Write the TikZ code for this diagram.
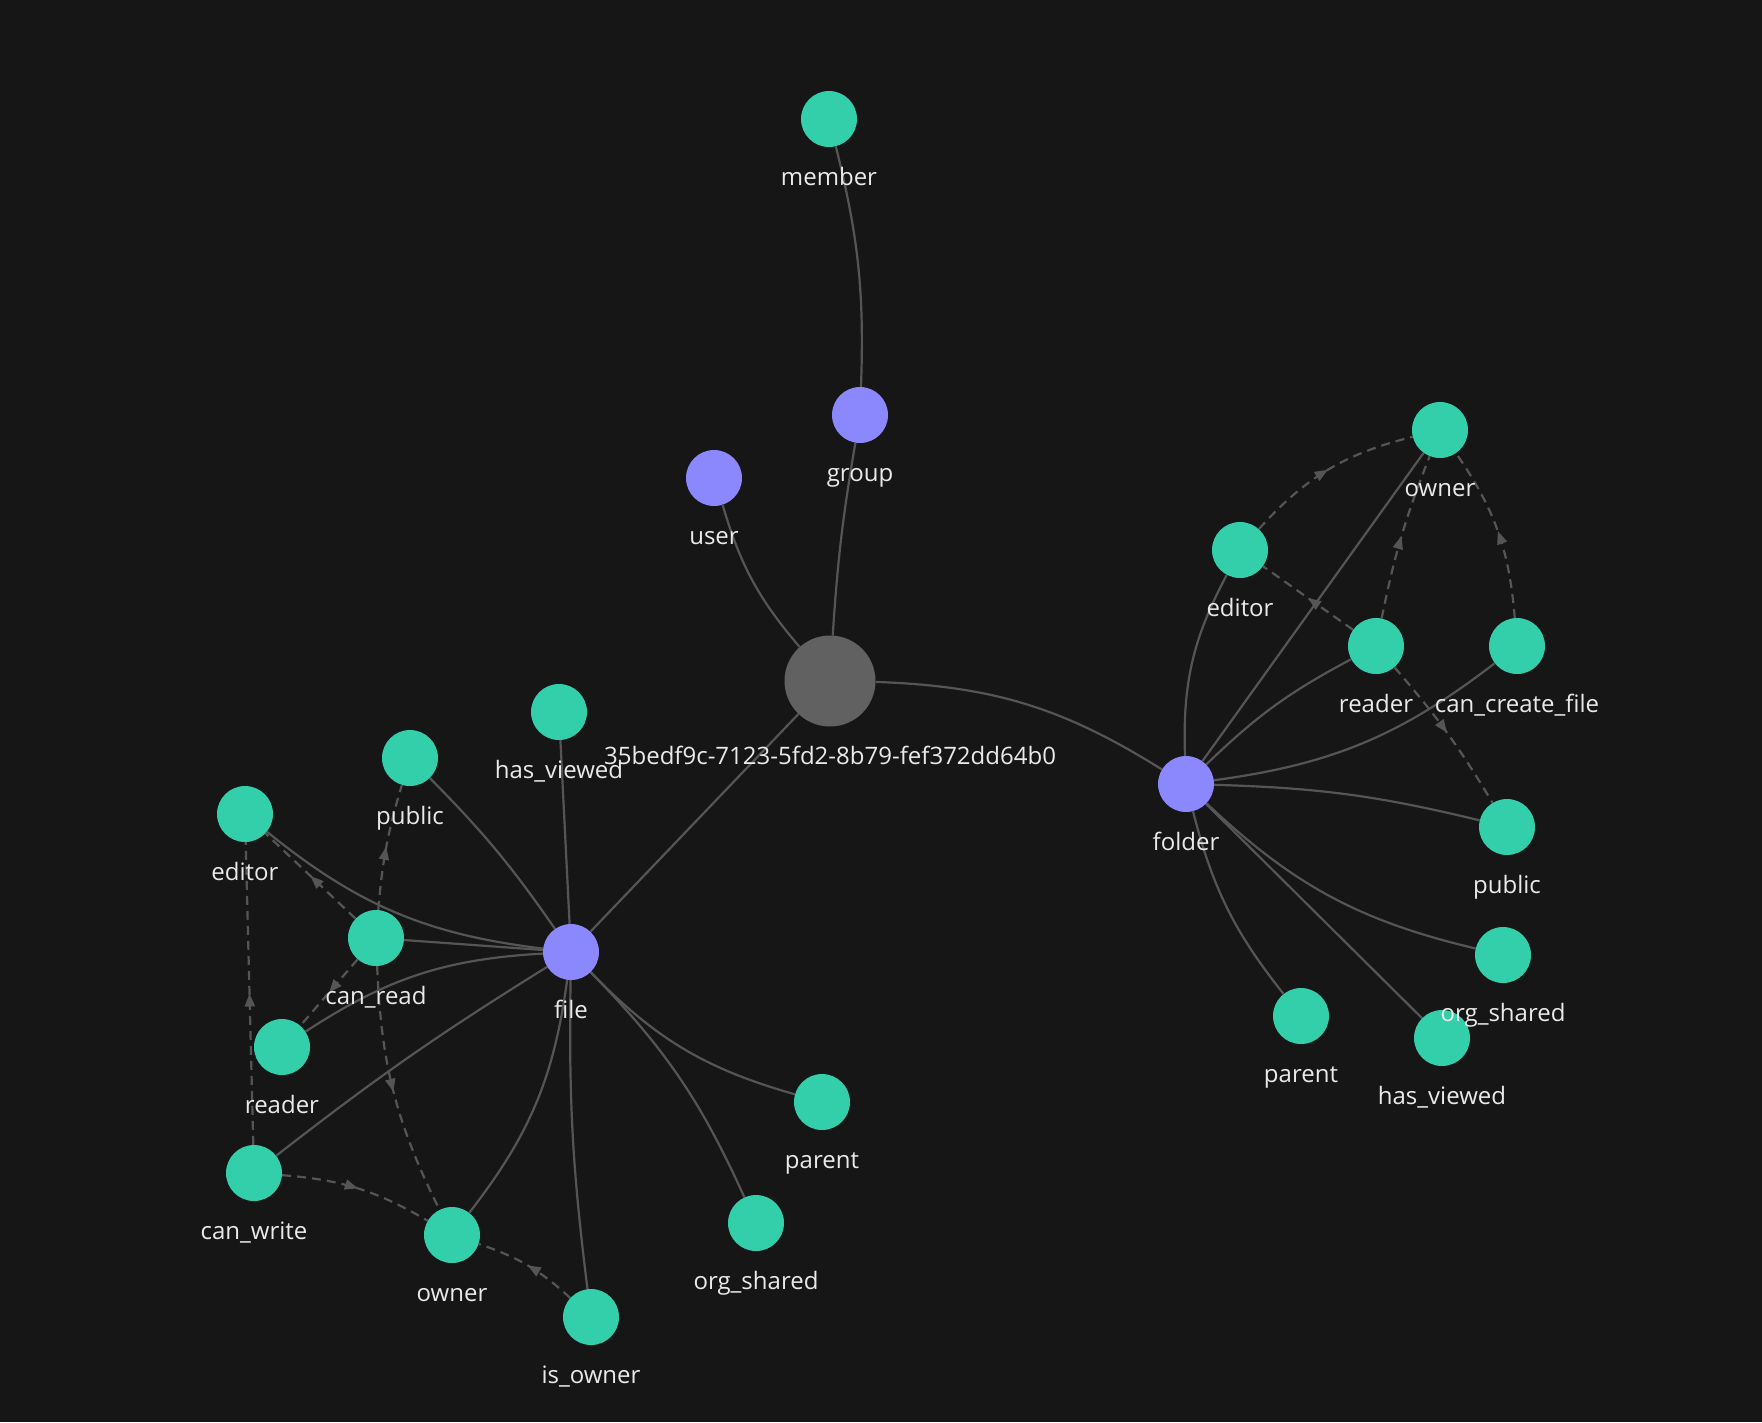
\documentclass[tikz,border=0pt]{standalone}
\usepackage{fontspec}
\setmainfont{Open Sans}
\usetikzlibrary{arrows.meta,decorations.markings}

\definecolor{bgcol}{HTML}{161616}
\definecolor{relgreen}{HTML}{33CFAA}
\definecolor{typpurple}{HTML}{8B87FC}
\definecolor{objgray}{HTML}{616161}
\definecolor{edgegray}{HTML}{555555}
\definecolor{labelwhite}{HTML}{EAEAEA}

\pgfdeclarelayer{bg}
\pgfdeclarelayer{edges}
\pgfsetlayers{bg,edges,main}

\begin{document}
\begin{tikzpicture}[x=1pt, y=-1pt,
    tag/.style={label={[anchor=base, label distance=38pt, text=labelwhite, font=\fontsize{24}{28}\selectfont]below:#1}},
    rel/.style={circle, fill=relgreen, minimum size=56pt, inner sep=0pt, tag=#1},
    typ/.style={circle, fill=typpurple, minimum size=56pt, inner sep=0pt, tag=#1},
    obj/.style={circle, fill=objgray, minimum size=91pt, inner sep=0pt, tag=#1},
    link/.style={draw=edgegray, line width=2.2pt},
    perm/.style={link, dash pattern=on 9pt off 6pt, postaction={decorate},
        decoration={markings, mark=at position 0.5 with {\arrow{Triangle[length=13pt,width=10pt]}}}}]

    \begin{pgfonlayer}{bg}
        \fill[bgcol] (0,0) rectangle (1762,1422);
    \end{pgfonlayer}

    % object, types
    \node[obj={35bedf9c-7123-5fd2-8b79-fef372dd64b0}] (root) at (830,681) {};
    \node[typ=user] (user) at (714,478) {};
    \node[typ=group] (group) at (860,415) {};
    \node[rel=member] (member) at (829,119) {};
    \node[typ=file] (file) at (571,952) {};
    \node[typ=folder] (folder) at (1186,784) {};

    % file relations
    \node[rel=has\_viewed] (fhasviewed) at (559,712) {};
    \node[rel=public] (fpublic) at (410,758) {};
    \node[rel=editor] (feditor) at (245,814) {};
    \node[rel=can\_read] (fcanread) at (376,938) {};
    \node[rel=reader] (freader) at (282,1047) {};
    \node[rel=can\_write] (fcanwrite) at (254,1173) {};
    \node[rel=owner] (fowner) at (452,1235) {};
    \node[rel=is\_owner] (fisowner) at (591,1317) {};
    \node[rel=parent] (fparent) at (822,1102) {};
    \node[rel=org\_shared] (forgshared) at (756,1223) {};

    % folder relations
    \node[rel=owner] (downer) at (1440,430) {};
    \node[rel=editor] (deditor) at (1240,550) {};
    \node[rel=reader] (dreader) at (1376,646) {};
    \node[rel=can\_create\_file] (dcancreate) at (1517,646) {};
    \node[rel=public] (dpublic) at (1507,827) {};
    \node[rel=has\_viewed] (dhasviewed) at (1442,1038) {};
    \node[rel=org\_shared] (dorgshared) at (1503,955) {};
    \node[rel=parent] (dparent) at (1301,1016) {};

    \begin{pgfonlayer}{edges}
        \draw[link] (member) to[bend left=8] (group);
        \draw[link] (group) to[bend right=3] (root);
        \draw[link] (user) to[bend right=12] (root);
        \draw[link] (root) to[bend left=15] (folder);
        \draw[link] (root) -- (file);

        \draw[link] (file) -- (fhasviewed);
        \draw[link] (file) to[bend right=5] (fpublic);
        \draw[link] (file) to[bend left=16] (feditor);
        \draw[link] (file) -- (fcanread);
        \draw[link] (file) to[bend right=15] (freader);
        \draw[link] (file) to[bend right=3] (fcanwrite);
        \draw[link] (file) to[bend left=15] (fowner);
        \draw[link] (file) to[bend right=4] (fisowner);
        \draw[link] (file) to[bend right=15] (fparent);
        \draw[link] (file) to[bend left=10] (forgshared);

        \draw[link] (folder) to[bend left=15] (deditor);
        \draw[link] (folder) -- (downer);
        \draw[link] (folder) to[bend left=8] (dreader);
        \draw[link] (folder) to[bend right=15] (dcancreate);
        \draw[link] (folder) to[bend left=6] (dpublic);
        \draw[link] (folder) to[bend right=15] (dorgshared);
        \draw[link] (folder) -- (dhasviewed);
        \draw[link] (folder) to[bend right=12] (dparent);

        % permissions
        \draw[perm] (fcanread) -- (feditor);
        \draw[perm] (fcanread) to[bend left=6] (fpublic);
        \draw[perm] (fcanread) -- (freader);
        \draw[perm] (fcanread) to[bend right=12] (fowner);
        \draw[perm] (fcanwrite) -- (feditor);
        \draw[perm] (fcanwrite) to[bend left=13] (fowner);
        \draw[perm] (fisowner) to[bend right=12] (fowner);

        \draw[perm] (deditor) to[bend left=17] (downer);
        \draw[perm] (dreader) -- (deditor);
        \draw[perm] (dreader) to[bend left=5] (downer);
        \draw[perm] (dreader) to[bend left=5] (dpublic);
        \draw[perm] (dcancreate) to[bend right=15] (downer);
    \end{pgfonlayer}
\end{tikzpicture}
\end{document}
